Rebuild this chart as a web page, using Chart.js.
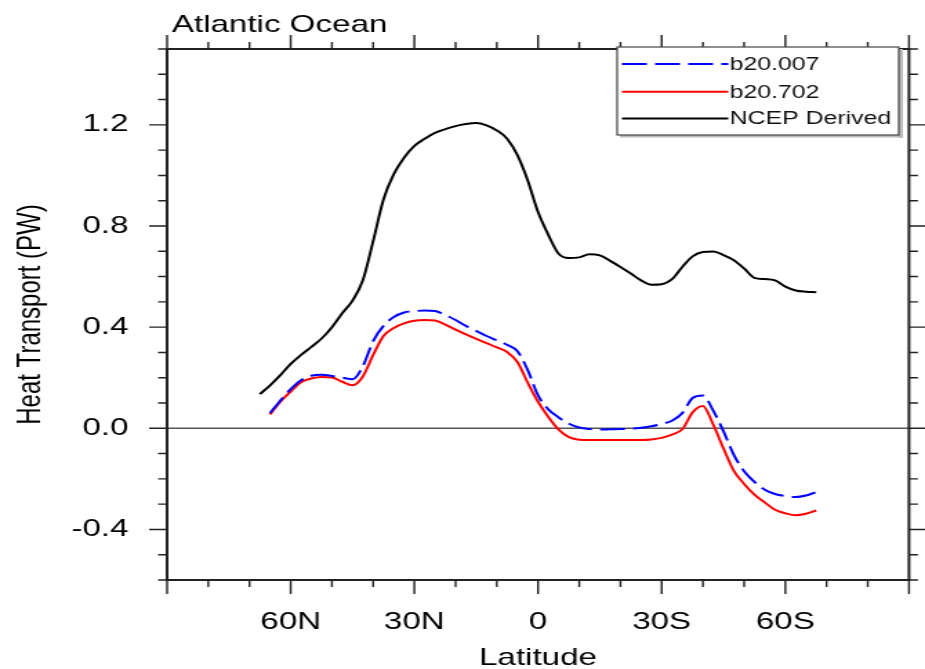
<!DOCTYPE html>
<html><head><meta charset="utf-8">
<script src="https://cdn.jsdelivr.net/npm/chart.js@4.4.1/dist/chart.umd.min.js"></script>
<style>
html,body{margin:0;padding:0;background:#fff;overflow:hidden;}
#wrap{width:670px;height:669px;transform:scaleX(1.380597);transform-origin:0 0;}
canvas{display:block;}
</style></head><body>
<div id="wrap"><canvas id="c" width="670" height="669"></canvas></div>
<script>
// Latitude (degrees, N positive)
const lats = [67.5,65,62.5,60,57.5,55,52.5,50,47.5,45,42.5,40,37.5,35,32.5,30,27.5,25,22.5,20,17.5,15,12.5,10,7.5,5,2.5,0,
  -2.5,-5,-7.5,-10,-12.5,-15,-17.5,-20,-22.5,-25,-27.5,-30,-32.5,-35,-37.5,-40,-42.5,-45,-47.5,-50,-52.5,-55,-57.5,-60,-62.5,-65,-67.5];
// Heat transport (PW)
const b20_007 = [null,0.06,0.11,0.155,0.19,0.208,0.212,0.207,0.200,0.194,0.245,0.345,0.405,0.44,0.458,0.463,0.466,0.464,0.448,0.428,0.405,0.385,0.365,0.348,0.33,0.305,0.23,0.13,
  0.075,0.043,0.018,0.003,-0.003,-0.005,-0.004,-0.003,-0.002,0.002,0.008,0.017,0.03,0.06,0.12,0.13,0.07,-0.012,-0.105,-0.17,-0.212,-0.243,-0.26,-0.268,-0.272,-0.266,-0.252];
const b20_702 = [null,0.055,0.105,0.145,0.182,0.197,0.203,0.201,0.184,0.170,0.205,0.29,0.365,0.397,0.415,0.425,0.428,0.426,0.41,0.39,0.371,0.354,0.337,0.32,0.302,0.262,0.18,0.105,
  0.045,-0.005,-0.035,-0.045,-0.046,-0.046,-0.046,-0.046,-0.046,-0.046,-0.044,-0.038,-0.025,-0.004,0.063,0.088,0.015,-0.08,-0.168,-0.22,-0.262,-0.293,-0.322,-0.336,-0.344,-0.338,-0.325];
const ncep = [0.135,0.17,0.21,0.255,0.29,0.322,0.355,0.40,0.455,0.505,0.585,0.74,0.905,1.005,1.07,1.117,1.145,1.168,1.183,1.195,1.203,1.207,1.198,1.178,1.145,1.08,0.98,0.855,
  0.765,0.69,0.673,0.676,0.688,0.684,0.662,0.638,0.612,0.585,0.568,0.570,0.590,0.638,0.680,0.697,0.699,0.685,0.665,0.632,0.595,0.590,0.585,0.560,0.545,0.540,0.538];
const seriesNames = ['b20.007','b20.702','NCEP Derived'];
const xTickValues = [60,30,0,-30,-60];
const xTickLabels = ['60N','30N','0','30S','60S'];
const yTickValues = [-0.4,0,0.4,0.8,1.2];
const yTickLabels = ['-0.4','0.0','0.4','0.8','1.2'];
const panelTitle = 'Atlantic Ocean';
const xTitle = 'Latitude';
const yTitle = 'Heat Transport (PW)';

const FONT = '"Liberation Sans", Arial, Helvetica, sans-serif';
Chart.defaults.font.family = FONT;
Chart.defaults.color = '#000';

function pts(vals){ return lats.map((la,i)=>({x:la,y:vals[i]})); }
function near(a,b){ return Math.abs(a-b) < 1e-6; }

const decor = {
  id:'decor',
  beforeDatasetsDraw(chart){
    const {ctx, chartArea:a, scales:{y}} = chart;
    const y0 = y.getPixelForValue(0);
    ctx.save();
    ctx.strokeStyle = '#555'; ctx.lineWidth = 1.4;
    ctx.beginPath(); ctx.moveTo(a.left,y0); ctx.lineTo(a.right,y0); ctx.stroke();
    ctx.restore();
  },
  afterDatasetsDraw(chart){
    const {ctx, chartArea:a, scales:{x,y}} = chart;
    ctx.save();
    ctx.strokeStyle = '#222'; ctx.lineWidth = 1.4;
    ctx.beginPath();
    for (let v=-90; v<=90; v+=10){
      const px = x.getPixelForValue(v);
      const L = (v%30===0) ? 14 : 7;
      ctx.moveTo(px,a.bottom); ctx.lineTo(px,a.bottom+L);
      ctx.moveTo(px,a.top); ctx.lineTo(px,a.top-L);
    }
    for (let k=-6; k<=15; k++){
      const py = y.getPixelForValue(k/10);
      const L = (k%4===0) ? 13 : 6.5;
      ctx.moveTo(a.left,py); ctx.lineTo(a.left-L,py);
      ctx.moveTo(a.right,py); ctx.lineTo(a.right+L,py);
    }
    ctx.stroke();
    ctx.lineWidth = 2; ctx.strokeStyle = '#222';
    ctx.strokeRect(a.left,a.top,a.width,a.height);
    ctx.restore();
  },
  afterDraw(chart){
    const {ctx} = chart;
    ctx.save();
    ctx.fillStyle = '#000';
    ctx.font = '24px ' + FONT;
    ctx.textAlign = 'left'; ctx.textBaseline = 'alphabetic';
    ctx.fillText(panelTitle, 124.5, 32);
    const bx = 447, by = 47, bw = 204, bh = 88;
    ctx.fillStyle = '#fff'; ctx.fillRect(bx,by,bw,bh);
    ctx.fillStyle = '#bbb'; ctx.fillRect(bx+bw,by+2,3,bh+1); ctx.fillRect(bx+2,by+bh,bw+1,2.5);
    ctx.strokeStyle = '#444'; ctx.lineWidth = 1.2; ctx.strokeRect(bx,by,bw,bh);
    const rows = [64, 91.7, 118.5];
    ctx.font = '18px ' + FONT; ctx.textBaseline = 'middle';
    chart.data.datasets.forEach((ds,i)=>{
      const ry = rows[i];
      ctx.strokeStyle = ds.borderColor; ctx.lineWidth = ds.borderWidth;
      ctx.setLineDash(ds.borderDash || []);
      ctx.beginPath(); ctx.moveTo(450.5,ry); ctx.lineTo(527.5,ry); ctx.stroke();
      ctx.setLineDash([]);
      ctx.fillStyle = '#111';
      ctx.fillText(ds.label, 528.5, ry+1);
    });
    ctx.restore();
  }
};

new Chart(document.getElementById('c'), {
  type:'line',
  data:{
    datasets:[
      {label:seriesNames[0], data:pts(b20_007), borderColor:'#0000ff', borderWidth:2, borderDash:[18,6]},
      {label:seriesNames[1], data:pts(b20_702), borderColor:'#ff0000', borderWidth:2},
      {label:seriesNames[2], data:pts(ncep), borderColor:'#000000', borderWidth:2}
    ]
  },
  options:{
    responsive:false, animation:false, devicePixelRatio:1,
    layout:{padding:{top:49,right:11.6,left:0,bottom:0}},
    elements:{point:{radius:0}, line:{cubicInterpolationMode:'monotone', fill:false}},
    plugins:{legend:{display:false}, tooltip:{enabled:false}, title:{display:false}},
    scales:{
      x:{type:'linear', min:-90, max:90, reverse:true,
         grid:{display:false, drawTicks:false}, border:{display:false},
         ticks:{stepSize:30, autoSkip:false, maxRotation:0, padding:28, font:{size:24},
           callback:(v)=>{const i=xTickValues.findIndex(t=>near(t,v)); return i>=0?xTickLabels[i]:'';}},
         title:{display:true, text:xTitle, font:{size:24, lineHeight:0.88}, padding:{top:0,bottom:0}},
         afterFit:(s)=>{s.height=89; s.paddingLeft=0; s.paddingRight=0;}
      },
      y:{type:'linear', min:-0.6, max:1.5,
         grid:{display:false, drawTicks:false}, border:{display:false},
         ticks:{stepSize:0.4, autoSkip:false, padding:28, font:{size:24},
           callback:(v)=>{const i=yTickValues.findIndex(t=>near(t,v)); return i>=0?yTickLabels[i]:'';}},
         title:{display:true, text:yTitle, font:{size:24}, padding:{top:8.4,bottom:0}},
         afterFit:(s)=>{s.width=121; s.paddingTop=0; s.paddingBottom=0;}
      }
    }
  },
  plugins:[decor]
});
</script>
</body></html>
